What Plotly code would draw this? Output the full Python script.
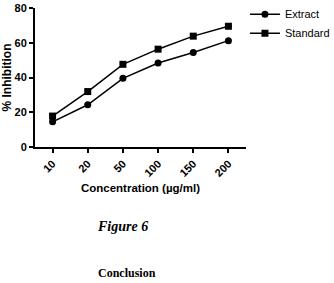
import plotly.graph_objects as go

concentrations = ["10", "20", "50", "100", "150", "200"]
extract = [14.5, 24.3, 39.5, 48.3, 54.4, 61.2]
standard = [17.8, 31.9, 47.6, 56.3, 63.8, 69.5]

fig = go.Figure()
fig.add_trace(go.Scatter(x=concentrations, y=extract, name="Extract", mode="lines+markers",
                         line=dict(color="black", width=1.5),
                         marker=dict(symbol="circle", size=7, color="black")))
fig.add_trace(go.Scatter(x=concentrations, y=standard, name="Standard", mode="lines+markers",
                         line=dict(color="black", width=1.5),
                         marker=dict(symbol="square", size=7, color="black")))

fig.update_layout(
    width=334, height=283,
    margin=dict(l=35, r=88, t=8, b=136, autoexpand=False),
    paper_bgcolor="white", plot_bgcolor="white",
    font=dict(family="Liberation Sans, Arial", color="black", size=11),
    showlegend=True,
    legend=dict(x=0.995, y=1.06, xanchor="left", yanchor="top",
                font=dict(size=11, family="Liberation Sans, Arial"),
                tracegroupgap=0, itemwidth=30, bgcolor="rgba(0,0,0,0)"),
    xaxis=dict(type="category", range=[-0.5, 5.5], showgrid=False,
               showline=True, linecolor="black", linewidth=2,
               ticks="outside", ticklen=4, tickwidth=1.5, tickcolor="black",
               tickangle=-45, tickfont=dict(size=11, family="Liberation Sans, Arial", weight="bold"),
               title=dict(text="<b>Concentration (µg/ml)</b>", font=dict(size=11.5), standoff=6),
               zeroline=False, automargin=False),
    yaxis=dict(range=[0, 80], tickvals=[0, 20, 40, 60, 80], showgrid=False,
               showline=True, linecolor="black", linewidth=2,
               ticks="outside", ticklen=4, tickwidth=1.5, tickcolor="black",
               tickfont=dict(size=11, family="Liberation Sans, Arial", weight="bold"),
               ticklabeloverflow="allow",
               title=dict(text="<b>% Inhibition</b>", font=dict(size=12), standoff=2),
               zeroline=False, automargin=False),
    annotations=[
        dict(text="<b><i>Figure 6</i></b>", xref="paper", yref="paper", x=0.417, y=-0.575,
             xanchor="center", yanchor="middle",
             showarrow=False, font=dict(family="Liberation Serif, Times New Roman", size=14)),
        dict(text="<b>Conclusion</b>", xref="paper", yref="paper", x=0.436, y=-0.907,
             xanchor="center", yanchor="middle",
             showarrow=False, font=dict(family="Liberation Serif, Times New Roman", size=12)),
    ],
)

fig.write_html("out.html")
